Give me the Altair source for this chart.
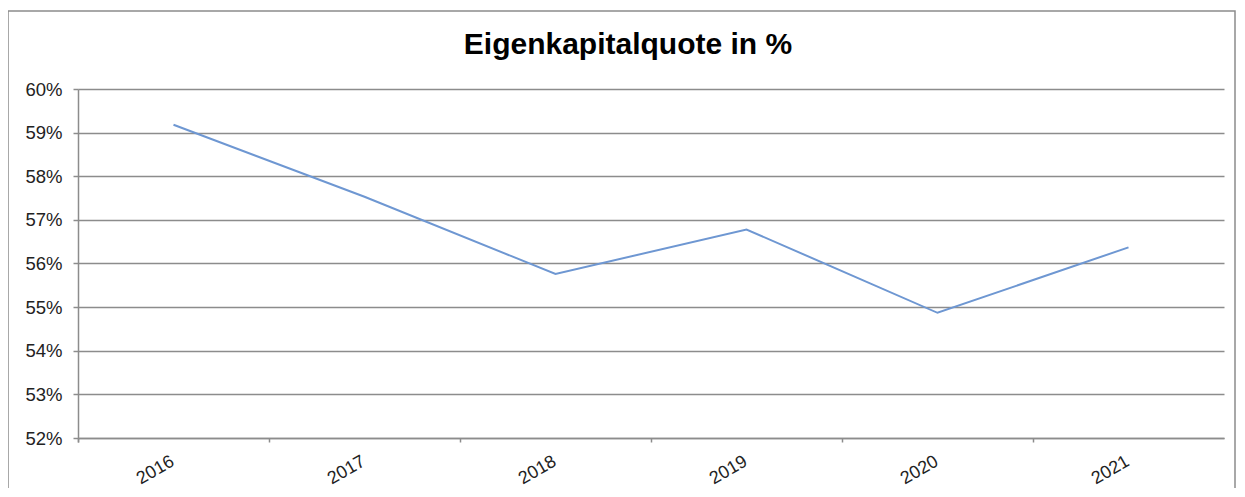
import altair as alt
import pandas as pd

# Data
years = ["2016", "2017", "2018", "2019", "2020", "2021"]
quote = [0.5918, 0.5753, 0.5576, 0.5678, 0.5487, 0.5637]
y_ticks = [0.52, 0.53, 0.54, 0.55, 0.56, 0.57, 0.58, 0.59, 0.60]
title_text = "Eigenkapitalquote in %"

df = pd.DataFrame({"Jahr": years, "Quote": quote})

W, H = 1146, 349
FONT = "Liberation Sans"
GRAY = "#8c8c8c"

line = alt.Chart(df).mark_line(color="#6e97d2", strokeWidth=2).encode(
    x=alt.X(
        "Jahr:O",
        sort=years,
        bandPosition=0.5,
        scale=alt.Scale(type="band", paddingInner=0, paddingOuter=0),
        axis=alt.Axis(
            title=None,
            labelAngle=330,
            labelAlign="right",
            labelBaseline="top",
            labelOffset=-5,
            bandPosition=0,
            tickExtra=True,
            tickSize=4,
            tickColor=GRAY,
            tickWidth=1.5,
            domainColor=GRAY,
            domainWidth=1.5,
            labelPadding=10,
            labelFontSize=18,
            labelFont=FONT,
            labelColor="#222222",
            grid=False,
        ),
    ),
    y=alt.Y(
        "Quote:Q",
        scale=alt.Scale(domain=[0.52, 0.60], nice=False, zero=False),
        axis=alt.Axis(
            title=None,
            values=y_ticks,
            format=".0%",
            grid=True,
            gridColor=GRAY,
            gridWidth=1.5,
            tickSize=5,
            tickColor=GRAY,
            tickWidth=1.5,
            domainColor=GRAY,
            domainWidth=1.5,
            labelPadding=11,
            labelFontSize=18.5,
            labelFont=FONT,
            labelColor="#222222",
        ),
    ),
)

border = alt.Chart(pd.DataFrame({"k": [0]})).mark_rect(
    fill="transparent", stroke=GRAY, strokeWidth=1.5
).encode(
    x=alt.value(-70), x2=alt.value(1157), y=alt.value(-78), y2=alt.value(440)
)

chart = alt.layer(border, line).properties(
    width=W,
    height=H,
    title=alt.TitleParams(
        title_text,
        font=FONT,
        fontSize=30,
        fontWeight="bold",
        color="#000000",
        anchor="middle",
        frame="group",
        offset=0,
        dx=-23,
        dy=50,
    ),
    autosize=alt.AutoSizeParams(type="none"),
    padding={"left": 70, "top": 81, "right": 13, "bottom": 50},
).configure_view(stroke=None)

chart.save("out.html", embed_options={"renderer": "svg", "actions": False})
